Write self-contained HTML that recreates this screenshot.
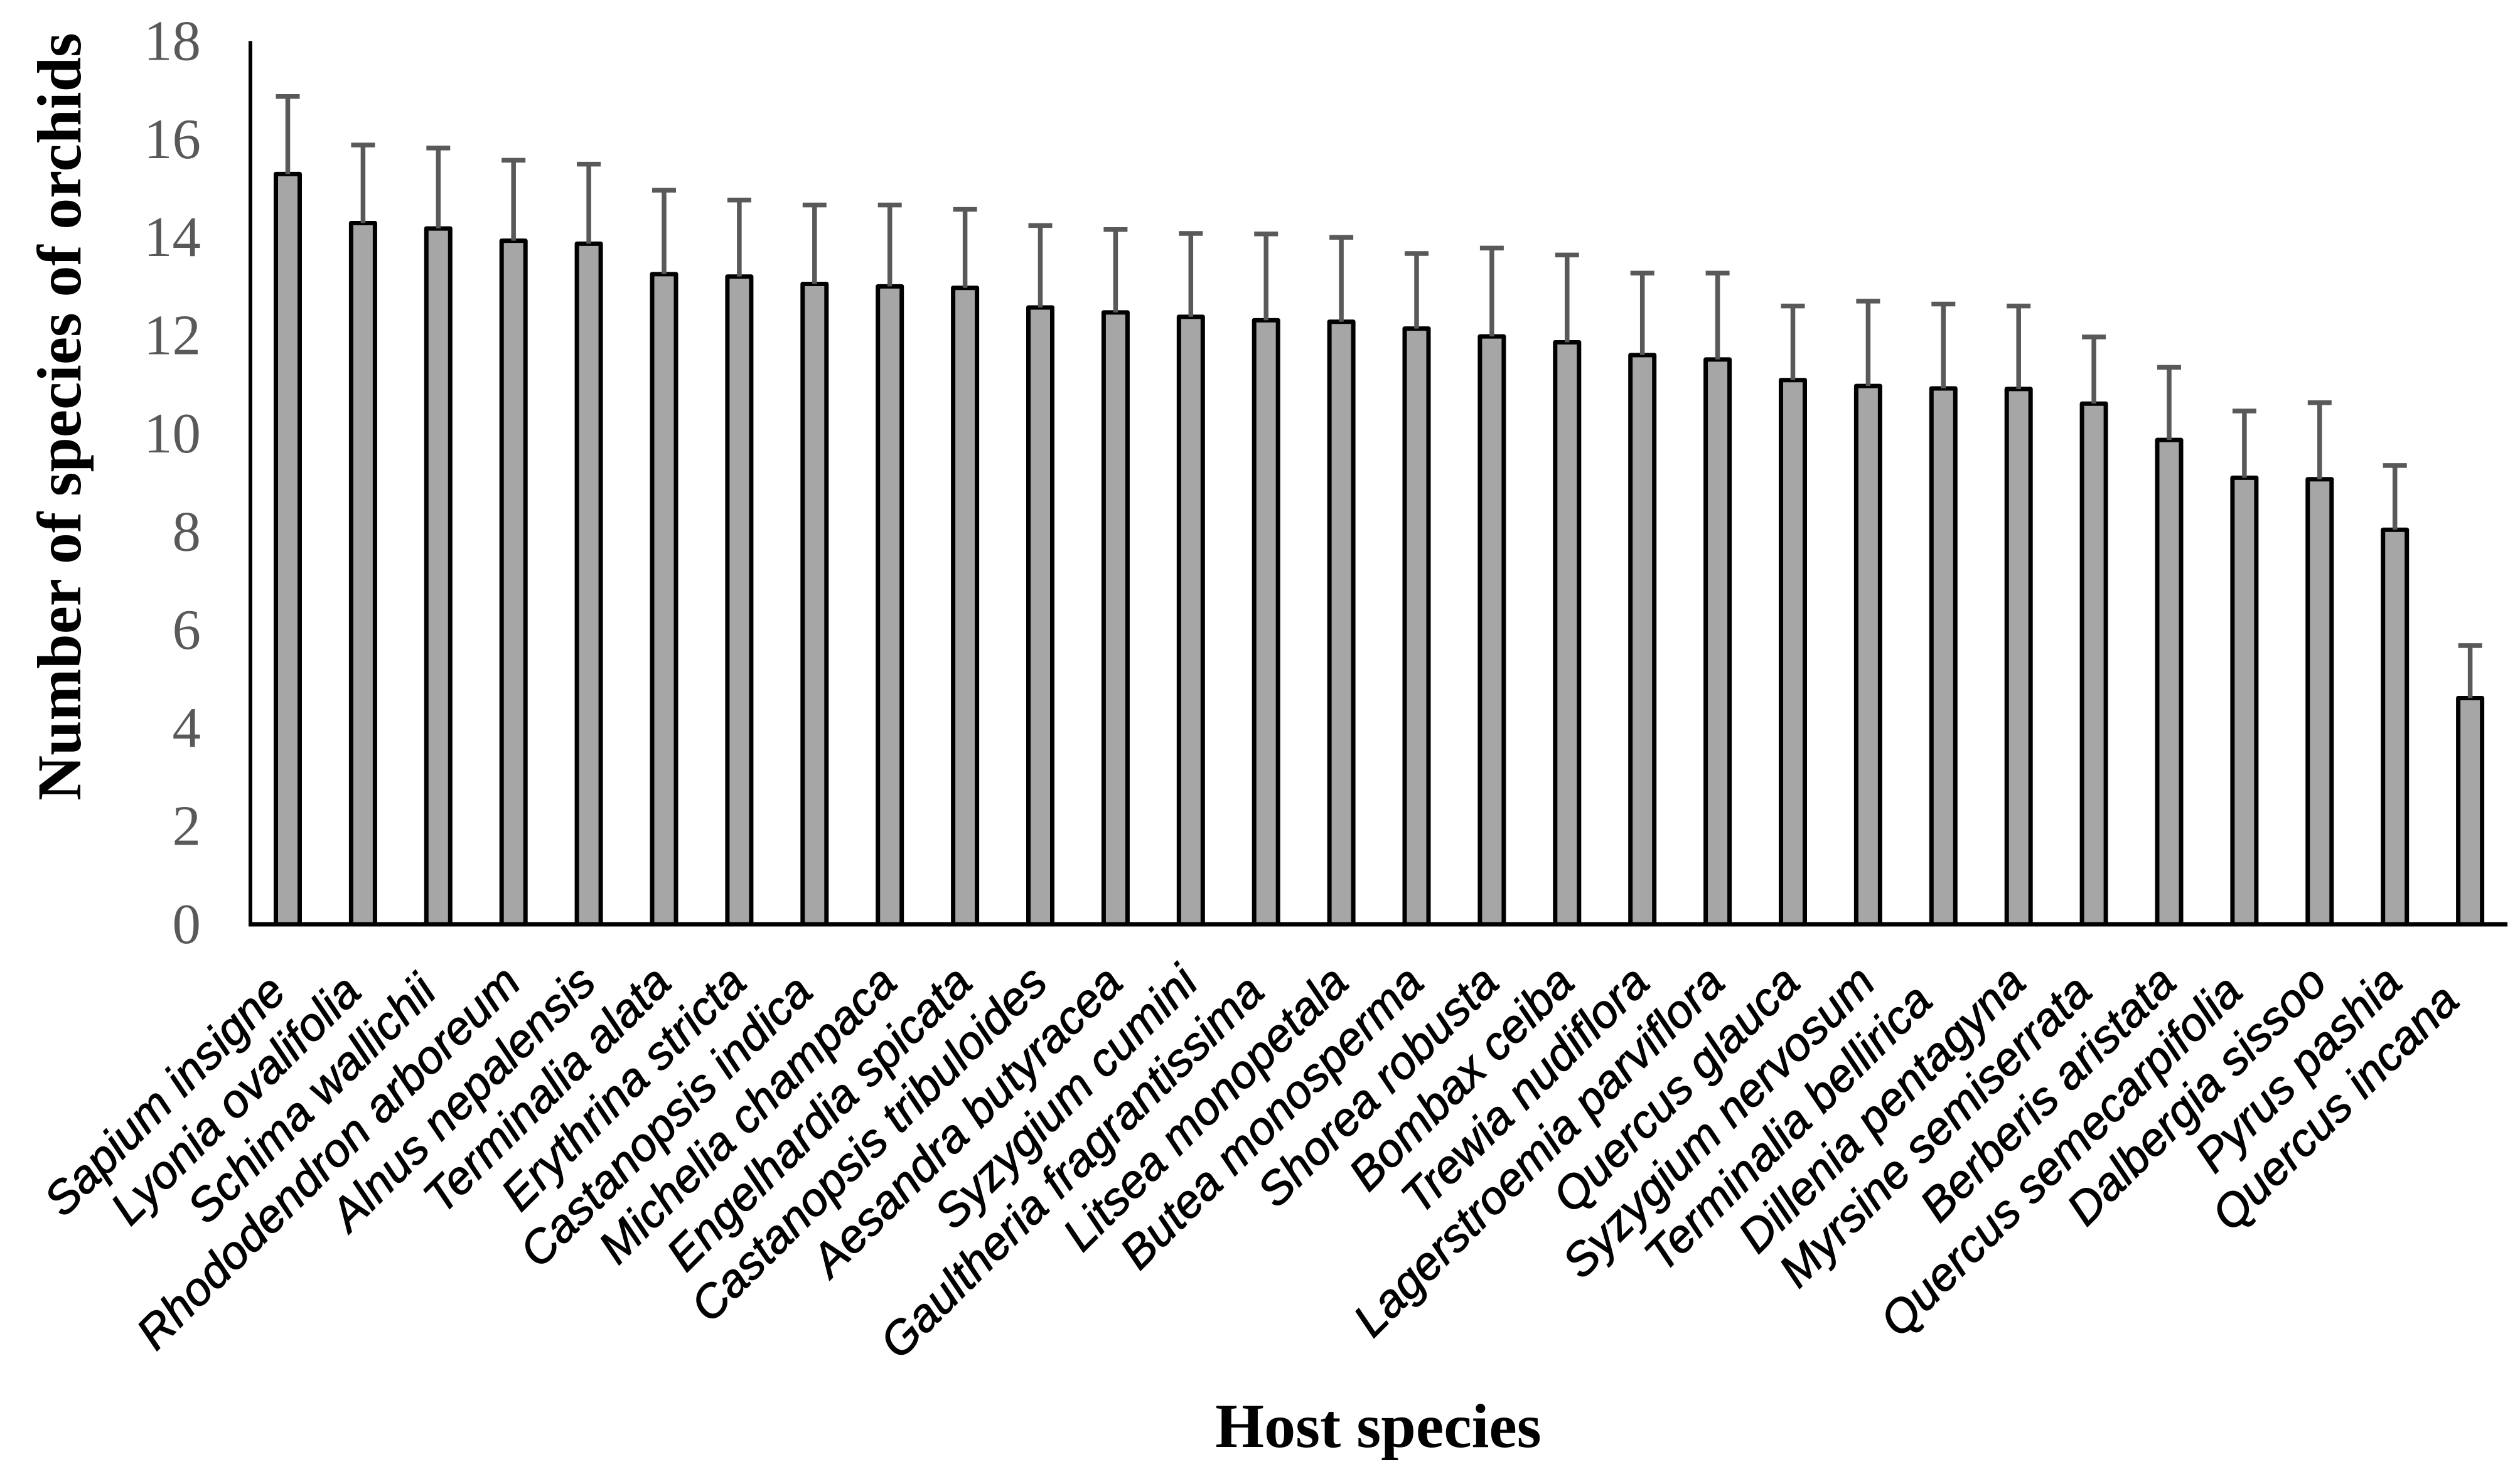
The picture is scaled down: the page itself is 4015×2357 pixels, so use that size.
<!DOCTYPE html>
<html lang="en">
<head>
<meta charset="utf-8">
<title>Number of species of orchids by host species</title>
<style>
html,body{margin:0;padding:0;background:#fff;width:4015px;height:2357px;overflow:hidden}
svg{display:block}
.ytick{font-family:"Liberation Serif",serif;font-size:91px;fill:#595959;text-anchor:end}
.xtick{font-family:"Liberation Sans",sans-serif;font-size:74px;font-style:italic;fill:#000;stroke:#000;stroke-width:1.2px;text-anchor:end}
.title{font-family:"Liberation Serif",serif;font-weight:bold;fill:#000;text-anchor:middle}
</style>
</head>
<body>
<svg id="chart" xmlns="http://www.w3.org/2000/svg" width="4015" height="2357" viewBox="0 0 4015 2357">
<rect x="0" y="0" width="4015" height="2357" fill="#ffffff"/>
<text class="title" font-size="99.5" transform="translate(128,664) rotate(-90)">Number of species of orchids</text>
<text class="title" font-size="100" x="2196" y="2306">Host species</text>
</svg>
<script>
const categories = ["Sapium insigne","Lyonia ovalifolia","Schima wallichii","Rhododendron arboreum","Alnus nepalensis","Terminalia alata","Erythrina stricta","Castanopsis indica","Michelia champaca","Engelhardia spicata","Castanopsis tribuloides","Aesandra butyracea","Syzygium cumini","Gaultheria fragrantissima","Litsea monopetala","Butea monosperma","Shorea robusta","Bombax ceiba","Trewia nudiflora","Lagerstroemia parviflora","Quercus glauca","Syzygium nervosum","Terminalia bellirica","Dillenia pentagyna","Myrsine semiserrata","Berberis aristata","Quercus semecarpifolia","Dalbergia sissoo","Pyrus pashia","Quercus incana"];
const speciesCounts = [15.29,14.29,14.18,13.93,13.87,13.25,13.2,13.05,13.0,12.97,12.57,12.47,12.38,12.31,12.28,12.14,11.98,11.86,11.6,11.51,11.09,10.97,10.92,10.91,10.61,9.87,9.1,9.07,8.04,4.61];
const errorAmounts = [1.58,1.59,1.64,1.64,1.62,1.71,1.56,1.61,1.66,1.6,1.67,1.69,1.7,1.76,1.72,1.53,1.8,1.78,1.67,1.76,1.51,1.73,1.72,1.69,1.36,1.48,1.36,1.56,1.31,1.07];
const yTickLabels = [0,2,4,6,8,10,12,14,16,18];
const labelAlignSteps = [0,0,0,1,1,1,1,0,1,1,1,1,1,0,1,1,1,1,1,1,1,1,-1,1,0,1,0,1,1,-1];

const NS = "http://www.w3.org/2000/svg";
const svg = document.getElementById("chart");
const Y0 = 1473, PX_PER_UNIT = 78.2, X0 = 458.5, STEP = 119.9, LABEL_STEP = 14.5;
const yScale = function (v) { return Y0 - v * PX_PER_UNIT; };
const xScale = function (i) { return X0 + i * STEP; };

function make(tag, parent) {
  const el = document.createElementNS(NS, tag);
  parent.appendChild(el);
  return el;
}

const barsGroup = make("g", svg);


const errorsGroup = make("g", svg);



speciesCounts.forEach(function (v, i) {
  const cx = xScale(i);
  const bar = make("rect", barsGroup);
  
  
  bar.setAttribute("x", cx - 19);
  bar.setAttribute("y", yScale(v));
  bar.setAttribute("width", 38);
  bar.setAttribute("height", Y0 - yScale(v));
  bar.setAttribute("fill", "#a6a6a6");
  bar.setAttribute("stroke", "#000");
  bar.setAttribute("stroke-width", 7);
  bar.setAttribute("stroke-linejoin", "round");

  const top = yScale(v + errorAmounts[i]);
  const stem = make("line", errorsGroup);
  
  
  stem.setAttribute("x1", cx);
  stem.setAttribute("x2", cx);
  stem.setAttribute("y1", yScale(v));
  stem.setAttribute("y2", top);
  stem.setAttribute("stroke", "#595959");
  stem.setAttribute("stroke-width", 7.5);

  const cap = make("line", errorsGroup);
  
  
  cap.setAttribute("x1", cx - 19);
  cap.setAttribute("x2", cx + 19);
  cap.setAttribute("y1", top);
  cap.setAttribute("y2", top);
  cap.setAttribute("stroke", "#595959");
  cap.setAttribute("stroke-width", 7.5);

  const label = make("text", svg);
  
  
  label.setAttribute("class", "xtick");
  const shift = labelAlignSteps[i] * LABEL_STEP;
  label.setAttribute("transform", "translate(" + (cx + 0.5 + shift) + "," + (1584.5 - shift) + ") rotate(-45)");
  label.textContent = categories[i];
});

yTickLabels.forEach(function (t) {
  const tick = make("text", svg);
  
  
  tick.setAttribute("class", "ytick");
  tick.setAttribute("x", 320);
  tick.setAttribute("y", yScale(t) + 30);
  tick.textContent = t;
});

const yAxis = make("line", svg);


yAxis.setAttribute("x1", 399);
yAxis.setAttribute("x2", 399);
yAxis.setAttribute("y1", yScale(18));
yAxis.setAttribute("y2", Y0 + 3);
yAxis.setAttribute("stroke", "#000");
yAxis.setAttribute("stroke-width", 6);

const xAxis = make("line", svg);


xAxis.setAttribute("x1", 396);
xAxis.setAttribute("x2", 3995);
xAxis.setAttribute("y1", Y0);
xAxis.setAttribute("y2", Y0);
xAxis.setAttribute("stroke", "#000");
xAxis.setAttribute("stroke-width", 7);
</script>
</body>
</html>
